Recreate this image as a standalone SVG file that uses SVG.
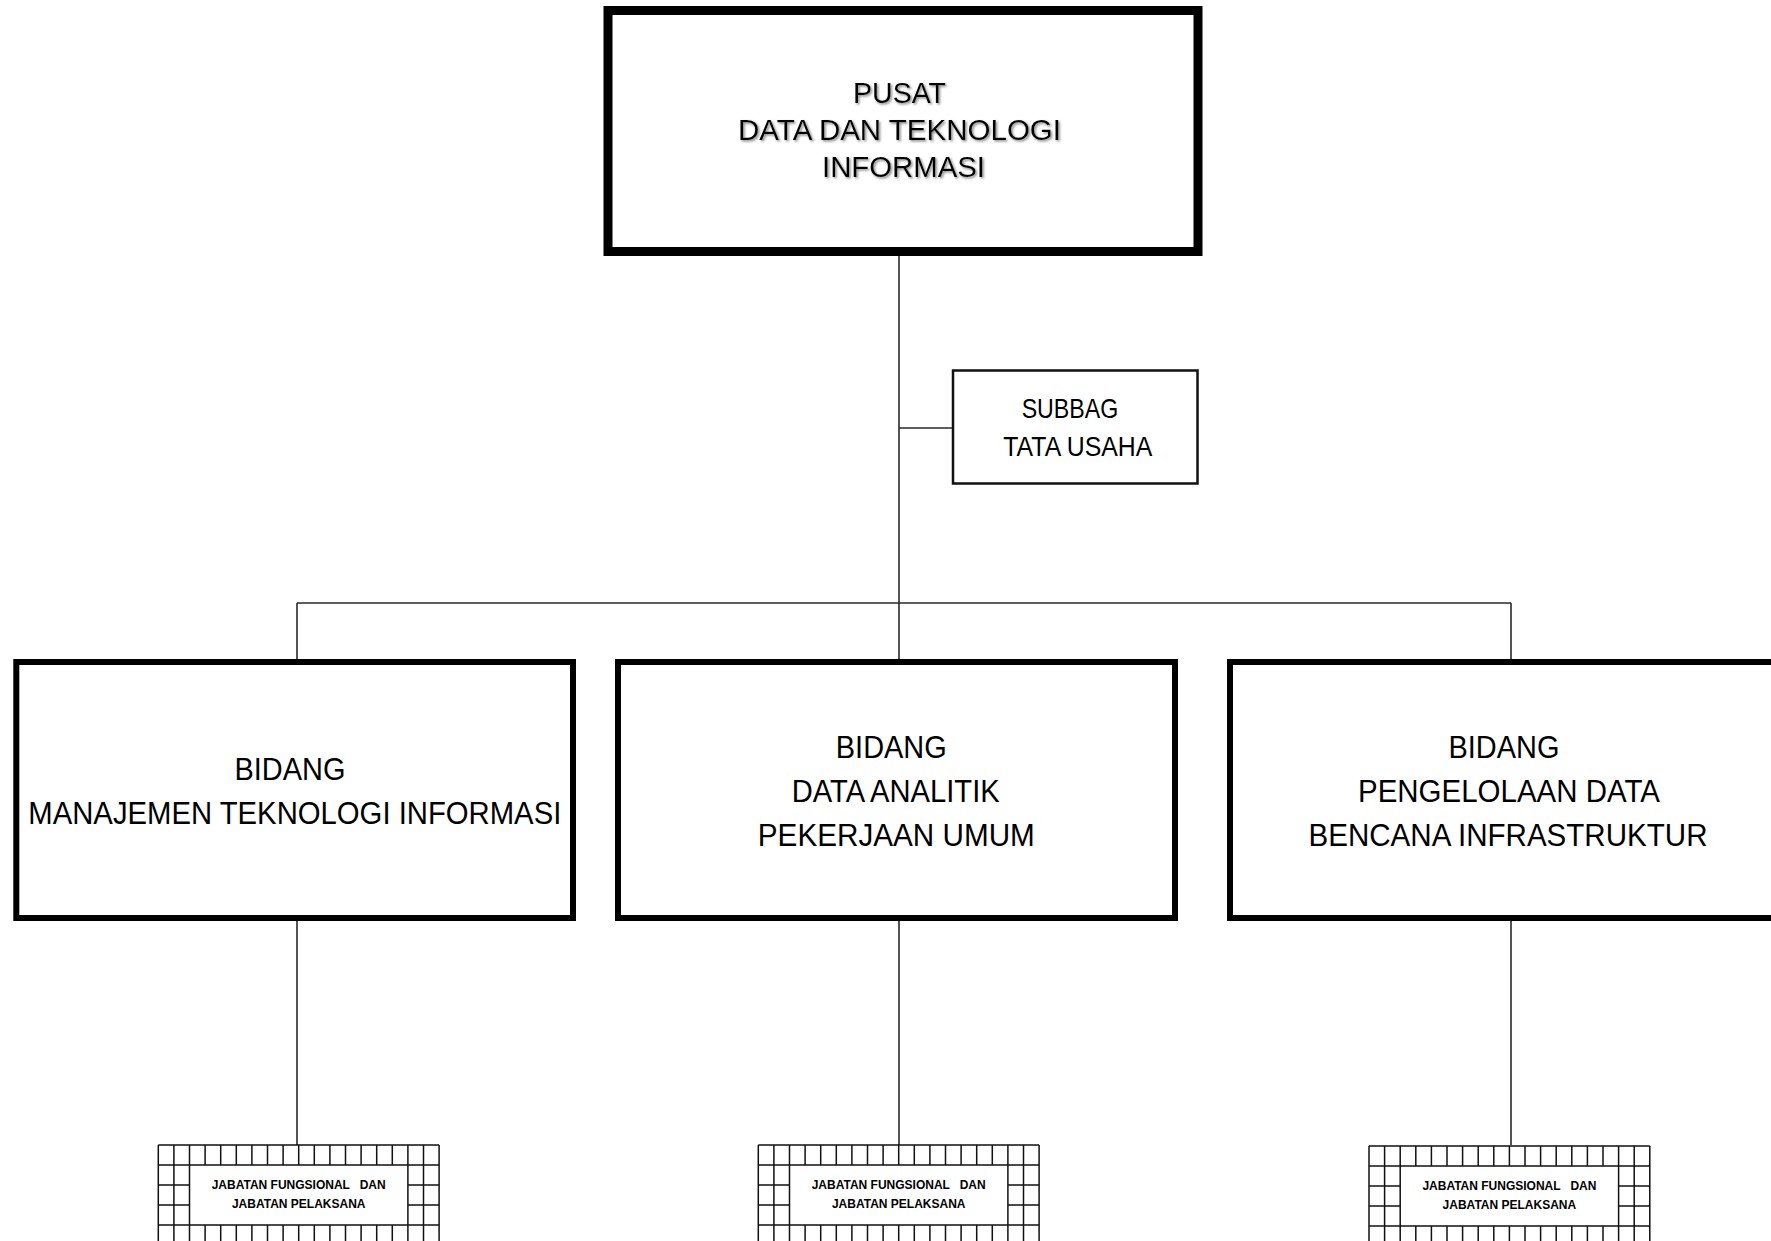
<svg xmlns="http://www.w3.org/2000/svg" width="1771" height="1241" viewBox="0 0 1771 1241">
  <style>
    .bg { fill: #ffffff; }
    .head { fill: #ffffff; stroke: #000000; stroke-width: 9; }
    .unit { fill: #ffffff; stroke: #000000; stroke-width: 6; }
    .sub { fill: #ffffff; stroke: #111111; stroke-width: 2.5; }
    .link { fill: none; stroke: #2a2a2a; stroke-width: 1.6; }
    .grid { fill: none; stroke: #111111; stroke-width: 1.5; }
    .t { font-family: "Liberation Sans", Arial, sans-serif; fill: #000000; text-anchor: middle; }
    .t-head { font-size: 29.5px; }
    .t-sub { font-size: 28px; }
    .t-unit { font-size: 32px; }
    .t-staff { font-size: 12px; font-weight: bold; white-space: pre; }
  </style>
  <defs>
    <filter id="softShadow" x="-10%" y="-20%" width="120%" height="140%">
      <feDropShadow dx="1.5" dy="1.5" stdDeviation="1.2" flood-color="#7a7a7a" flood-opacity="0.9"/>
    </filter>
    <!-- staff block: 18 x 5 cell frame around a text panel -->
    <g id="staffGrid">
      <rect x="0" y="0" width="280.8" height="100" fill="#ffffff"/>
      <path class="grid" d="M0 0H280.8 M0 20H280.8 M0 80H280.8 M0 100H280.8
        M0 40H31.2 M0 60H31.2 M249.6 40H280.8 M249.6 60H280.8
        M0 0V100 M15.6 0V100 M31.2 0V100 M249.6 0V100 M265.2 0V100 M280.8 0V100
        M46.8 0V20 M62.4 0V20 M78 0V20 M93.6 0V20 M109.2 0V20 M124.8 0V20 M140.4 0V20 M156 0V20 M171.6 0V20 M187.2 0V20 M202.8 0V20 M218.4 0V20 M234 0V20
        M46.8 80V100 M62.4 80V100 M78 80V100 M93.6 80V100 M109.2 80V100 M124.8 80V100 M140.4 80V100 M156 80V100 M171.6 80V100 M187.2 80V100 M202.8 80V100 M218.4 80V100 M234 80V100"/>
      <text class="t t-staff" x="140.4" y="44">JABATAN FUNGSIONAL   DAN</text>
      <text class="t t-staff" x="140.4" y="63">JABATAN PELAKSANA</text>
    </g>
  </defs>

  <rect class="bg" x="0" y="0" width="1771" height="1241"/>

  <g id="connectors">
    <path class="link" d="M899 255V659"/>
    <path class="link" d="M899 428H952"/>
    <path class="link" d="M297 603H1511"/>
    <path class="link" d="M297 603V659"/>
    <path class="link" d="M1511 603V659"/>
    <path class="link" d="M297 921V1145"/>
    <path class="link" d="M899 921V1145"/>
    <path class="link" d="M1511 921V1145"/>
  </g>

  <g id="pusat">
    <rect class="head" x="608" y="10.5" width="590" height="241"/>
    <g filter="url(#softShadow)">
      <text class="t t-head" x="899.5" y="103.3" textLength="93" lengthAdjust="spacingAndGlyphs">PUSAT</text>
      <text class="t t-head" x="899.5" y="140" textLength="323" lengthAdjust="spacingAndGlyphs">DATA DAN TEKNOLOGI</text>
      <text class="t t-head" x="903.5" y="176.7" textLength="163" lengthAdjust="spacingAndGlyphs">INFORMASI</text>
    </g>
  </g>

  <g id="subbag-tata-usaha">
    <rect class="sub" x="953" y="370.5" width="244.5" height="113"/>
    <text class="t t-sub" x="1070" y="418.3" textLength="96.7" lengthAdjust="spacingAndGlyphs">SUBBAG</text>
    <text class="t t-sub" x="1077.8" y="456" textLength="149" lengthAdjust="spacingAndGlyphs">TATA USAHA</text>
  </g>

  <g id="bidang-manajemen-ti">
    <rect class="unit" x="16.3" y="662" width="556.7" height="256"/>
    <text class="t t-unit" x="290" y="780" textLength="111" lengthAdjust="spacingAndGlyphs">BIDANG</text>
    <text class="t t-unit" x="294.8" y="823.5" textLength="533" lengthAdjust="spacingAndGlyphs">MANAJEMEN TEKNOLOGI INFORMASI</text>
  </g>

  <g id="bidang-data-analitik">
    <rect class="unit" x="618" y="662" width="557" height="256"/>
    <text class="t t-unit" x="891.3" y="758" textLength="111" lengthAdjust="spacingAndGlyphs">BIDANG</text>
    <text class="t t-unit" x="895.7" y="801.7" textLength="208" lengthAdjust="spacingAndGlyphs">DATA ANALITIK</text>
    <text class="t t-unit" x="896.3" y="845.5" textLength="277" lengthAdjust="spacingAndGlyphs">PEKERJAAN UMUM</text>
  </g>

  <g id="bidang-data-bencana">
    <rect class="unit" x="1230" y="662" width="557" height="256"/>
    <text class="t t-unit" x="1504" y="758" textLength="111" lengthAdjust="spacingAndGlyphs">BIDANG</text>
    <text class="t t-unit" x="1509" y="801.7" textLength="302" lengthAdjust="spacingAndGlyphs">PENGELOLAAN DATA</text>
    <text class="t t-unit" x="1508" y="845.5" textLength="399" lengthAdjust="spacingAndGlyphs">BENCANA INFRASTRUKTUR</text>
  </g>

  <g id="jabatan-1">
    <use href="#staffGrid" x="158.3" y="1145"/>
  </g>
  <g id="jabatan-2">
    <use href="#staffGrid" x="758.3" y="1145"/>
  </g>
  <g id="jabatan-3">
    <use href="#staffGrid" x="1369" y="1146"/>
  </g>
</svg>
